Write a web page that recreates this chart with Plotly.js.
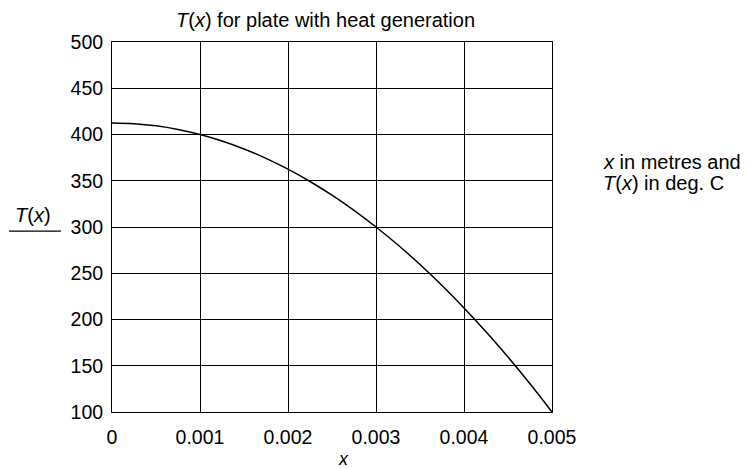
<!DOCTYPE html>
<html>
<head>
<meta charset="utf-8">
<script src="https://cdn.plot.ly/plotly-3.0.1.min.js"></script>
<style>html,body{margin:0;padding:0;background:#fff;}#chart{width:752px;height:469px;}</style>
</head>
<body>
<div id="chart"></div>
<script>
// x in metres
const xValues = [0, 0.00025, 0.0005, 0.00075, 0.001, 0.00125, 0.0015, 0.00175, 0.002, 0.00225, 0.0025,
                 0.00275, 0.003, 0.00325, 0.0035, 0.00375, 0.004, 0.00425, 0.0045, 0.00475, 0.005];
// T(x) in deg. C
const tValues = [412.5, 411.7, 409.4, 405.5, 400, 393, 384.4, 374.2, 362.5, 349.2, 334.4,
                 318, 300, 280.5, 259.4, 236.7, 212.5, 186.7, 159.4, 130.5, 100];
const xTicks = [0, 0.001, 0.002, 0.003, 0.004, 0.005];
const xTickLabels = ['0', '0.001', '0.002', '0.003', '0.004', '0.005'];
const yTicks = [100, 150, 200, 250, 300, 350, 400, 450, 500];

const FONT = 'Liberation Sans, Arial, sans-serif';

const trace = {
  x: xValues, y: tValues, type: 'scatter', mode: 'lines',
  line: {color: '#000', width: 1.5, shape: 'spline'},
  hoverinfo: 'skip', showlegend: false
};

const layout = {
  width: 752, height: 469,
  margin: {l: 112, r: 200, t: 42, b: 57},
  paper_bgcolor: '#fff', plot_bgcolor: '#fff',
  font: {family: FONT, color: '#000', size: 19},
  xaxis: {
    range: [0, 0.005], tickvals: xTicks, ticktext: xTickLabels,
    showgrid: true, gridcolor: '#000', gridwidth: 1,
    showline: true, linecolor: '#000', linewidth: 1, mirror: true,
    ticks: 'outside', ticklen: 8, tickcolor: 'rgba(0,0,0,0)',
    zeroline: false, tickfont: {family: FONT, size: 19.5, color: '#000'}
  },
  yaxis: {
    range: [100, 500], tickvals: yTicks,
    showgrid: true, gridcolor: '#000', gridwidth: 1,
    showline: true, linecolor: '#000', linewidth: 1, mirror: true,
    ticks: 'outside', ticklen: 4, tickcolor: 'rgba(0,0,0,0)',
    zeroline: false, tickfont: {family: FONT, size: 19.5, color: '#000'}
  },
  annotations: [
    {text: '<i>T</i>(<i>x</i>) for plate with heat generation', xref: 'paper', yref: 'paper',
     x: 0.486, y: 1.059, xanchor: 'center', yanchor: 'middle', showarrow: false, borderpad: 0,
     font: {family: FONT, size: 20, color: '#000'}},
    {text: '<i>x</i>', xref: 'paper', yref: 'paper', x: 0.525, y: -0.128,
     xanchor: 'center', yanchor: 'middle', showarrow: false, borderpad: 0,
     font: {family: FONT, size: 18, color: '#000'}},
    {text: '<i>T</i>(<i>x</i>)', xref: 'paper', yref: 'paper', x: -0.18, y: 0.532,
     xanchor: 'center', yanchor: 'middle', showarrow: false, borderpad: 0,
     font: {family: FONT, size: 20, color: '#000'}},
    {text: '<i>x</i> in metres and', xref: 'paper', yref: 'paper',
     x: 1.114, y: 0.6757, xanchor: 'left', yanchor: 'middle', align: 'left', showarrow: false, borderpad: 0,
     font: {family: FONT, size: 20, color: '#000'}},
    {text: '<i>T</i>(<i>x</i>) in deg. C', xref: 'paper', yref: 'paper',
     x: 1.114, y: 0.619, xanchor: 'left', yanchor: 'middle', align: 'left', showarrow: false, borderpad: 0,
     font: {family: FONT, size: 20, color: '#000'}}
  ],
  shapes: [
    {type: 'line', xref: 'paper', yref: 'paper', x0: -0.234, x1: -0.116, y0: 0.489, y1: 0.489,
     line: {color: '#000', width: 1.2}}
  ]
};

Plotly.newPlot('chart', [trace], layout, {displayModeBar: false, staticPlot: true});
</script>
</body>
</html>
